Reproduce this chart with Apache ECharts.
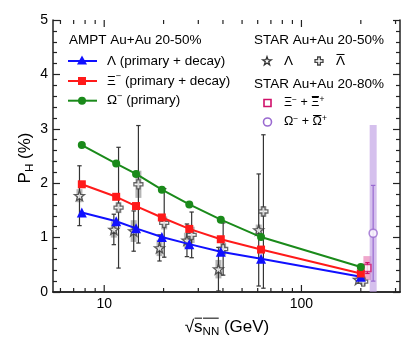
<!DOCTYPE html>
<html>
<head>
<meta charset="utf-8">
<script src="https://cdn.jsdelivr.net/npm/echarts@6/dist/echarts.min.js"></script>
<style>
html, body { margin: 0; padding: 0; background: #fff; }
#chart { width: 415px; height: 354px; }
</style>
</head>
<body>
<div id="chart"></div>
<script>
// AMPT Au+Au 20-50%
const ampt_energy = [7.7, 11.5, 14.5, 19.6, 27, 39, 62.4, 200];
const ampt_lambda = [1.46, 1.30, 1.17, 1.01, 0.88, 0.74, 0.61, 0.28];
const ampt_xi = [1.98, 1.75, 1.58, 1.37, 1.16, 0.97, 0.78, 0.34];
const ampt_omega = [2.70, 2.36, 2.17, 1.88, 1.61, 1.33, 1.01, 0.46];

// STAR Au+Au 20-50%  Lambda
const star_lam_energy = [7.7, 11.5, 14.5, 19.6, 27, 39, 62.4, 200];
const star_lam = [1.77, 1.15, 1.12, 0.81, 0.95, 0.42, 1.14, 0.23];
const star_lam_stat = [0.55, 0.28, 0.37, 0.24, 0.30, 0.40, 1.03, 0.06];
const star_lam_sys = [0.12, 0.15, 0.20, 0.15, 0.14, 0.17, 0.10, 0.04];

// STAR Au+Au 20-50%  anti-Lambda
const star_lbar_energy = [11.5, 14.5, 19.6, 27, 39, 62.4, 200];
const star_lbar = [1.55, 1.98, 1.27, 1.05, 0.79, 1.48, 0.19];
const star_lbar_stat = [1.11, 1.08, 0.63, 0.42, 0.48, 1.41, 0.06];
const star_lbar_sys = [0.10, 0.25, 0.12, 0.15, 0.12, 0.10, 0.04];

// STAR Au+Au 20-80%
const star_xi_energy = [200];
const star_xi = [0.44];
const star_xi_stat = [0.10];
const star_xi_sys = [0.22];
const star_om_energy = [200];
const star_om = [1.08];
const star_om_stat = [0.88];
const star_om_sys = [1.99];

// axis ticks
const x_major_ticks = [10, 100];
const x_minor_ticks = [6, 7, 8, 9, 20, 30, 40, 50, 60, 70, 80, 90, 200, 300];

// horizontal shifts used in the plot so the points don't overlap
const shift_lam = 0.973, shift_lbar = 1.028, shift_xi = 1.08, shift_om = 1.155;

const FONT = '"Liberation Sans", Arial, sans-serif';
const C_BLUE = '#1010ff', C_RED = '#ff1a1a', C_GREEN = '#1a8a1a';
const C_MAG = '#d0106a', C_PURPLE = '#9a6ad0';

const STAR_PTS = [[50, 2], [61.76, 35.82], [97.55, 36.55], [69.02, 58.18], [79.39, 92.45], [50, 72], [20.61, 92.45], [30.98, 58.18], [2.45, 36.55], [38.24, 35.82]];
const CROSS_PTS = [[33, 0], [67, 0], [67, 33], [100, 33], [100, 67], [67, 67], [67, 100], [33, 100], [33, 67], [0, 67], [0, 33], [33, 33]];
function toPath(p) { return 'path://M' + p.map(q => q[0] + ' ' + q[1]).join(' L') + ' Z'; }
function scalePts(p, cx, cy, size) { return p.map(q => [cx + (q[0] - 50) * size / 100, cy + (q[1] - 50) * size / 100]); }

const mctx = document.createElement('canvas').getContext('2d');
function txtW(s, size) { mctx.font = size + 'px ' + FONT; return mctx.measureText(s).width; }

// builds a row of text pieces (normal / sub / sup / overline), origin at left-middle
function composite(parts, size) {
    let x = 0;
    const kids = [];
    parts.forEach(p => {
        const small = p.sub || p.sup;
        const sz = small ? size * 0.68 : size;
        const dy = p.sub ? size * 0.28 : (p.sup ? -size * 0.3 : 0);
        const w = txtW(p.t, sz);
        kids.push({ type: 'text', x: x, y: dy, style: { text: p.t, font: sz + 'px ' + FONT, fill: '#000', align: 'left', verticalAlign: 'middle' } });
        if (p.over) {
            kids.push({ type: 'line', shape: { x1: x + 0.5, y1: -size * 0.52, x2: x + w - 0.5, y2: -size * 0.52 }, style: { stroke: '#000', lineWidth: 1 } });
        }
        x += w;
    });
    return { kids: kids, width: x };
}

function pts(es, vs, f) { return es.map((e, i) => [e * (f || 1), vs[i]]); }
function errs(es, vs, st, f) { return es.map((e, i) => [e * (f || 1), vs[i] - st[i], vs[i] + st[i]]); }

function errRender(color, cap, lw) {
    return function (params, api) {
        const x = api.value(0);
        const p1 = api.coord([x, api.value(1)]);
        const p2 = api.coord([x, api.value(2)]);
        const st = { stroke: color, lineWidth: lw };
        return { type: 'group', children: [
            { type: 'line', shape: { x1: p1[0], y1: p1[1], x2: p2[0], y2: p2[1] }, style: st },
            { type: 'line', shape: { x1: p1[0] - cap, y1: p1[1], x2: p1[0] + cap, y2: p1[1] }, style: st },
            { type: 'line', shape: { x1: p2[0] - cap, y1: p2[1], x2: p2[0] + cap, y2: p2[1] }, style: st }
        ] };
    };
}
function boxRender(color, half) {
    return function (params, api) {
        const x = api.value(0);
        const p1 = api.coord([x, api.value(1)]);
        const p2 = api.coord([x, api.value(2)]);
        return { type: 'rect', shape: { x: p1[0] - half, y: p2[1], width: half * 2, height: p1[1] - p2[1] }, style: { fill: color } };
    };
}
function tickRender(len) {
    return function (params, api) {
        const b = api.coord([api.value(0), 0]);
        const t = api.coord([api.value(0), 5]);
        const st = { stroke: '#222', lineWidth: 1.2 };
        return { type: 'group', children: [
            { type: 'line', shape: { x1: b[0], y1: b[1], x2: b[0], y2: b[1] - len }, style: st },
            { type: 'line', shape: { x1: t[0], y1: t[1], x2: t[0], y2: t[1] + len }, style: st }
        ] };
    };
}

function customSeries(data, render, z, clip) {
    return { type: 'custom', data: data, renderItem: render, encode: { x: 0, y: [1, 2] }, z: z, clip: clip !== false, silent: true };
}

const series = [
    // systematic boxes
    customSeries(errs(star_lam_energy, star_lam, star_lam_sys, shift_lam), boxRender('rgba(120,120,120,0.55)', 3), 1),
    customSeries(errs(star_lbar_energy, star_lbar, star_lbar_sys, shift_lbar), boxRender('rgba(120,120,120,0.55)', 3), 1),
    customSeries(errs(star_xi_energy, star_xi, star_xi_sys, shift_xi), boxRender('rgba(230,110,170,0.6)', 4), 1),
    customSeries(errs(star_om_energy, star_om, star_om_sys, shift_om), boxRender('rgba(185,150,225,0.6)', 3.5), 1),
    // statistical error bars
    customSeries(errs(star_lam_energy, star_lam, star_lam_stat, shift_lam), errRender('#333', 2.2, 1.2), 2),
    customSeries(errs(star_lbar_energy, star_lbar, star_lbar_stat, shift_lbar), errRender('#333', 2.2, 1.2), 2),
    customSeries(errs(star_xi_energy, star_xi, star_xi_stat, shift_xi), errRender(C_MAG, 2.2, 1.2), 2),
    customSeries(errs(star_om_energy, star_om, star_om_stat, shift_om), errRender(C_PURPLE, 2.2, 1.2), 2),
    // STAR markers
    { type: 'scatter', data: pts(star_lam_energy, star_lam, shift_lam), symbol: toPath(STAR_PTS), symbolSize: 10, z: 3,
      itemStyle: { color: '#fff', borderColor: '#333', borderWidth: 1.3 } },
    { type: 'scatter', data: pts(star_lbar_energy, star_lbar, shift_lbar), symbol: toPath(CROSS_PTS), symbolSize: 9, z: 3,
      itemStyle: { color: '#fff', borderColor: '#444', borderWidth: 1.3 } },
    { type: 'scatter', data: pts(star_xi_energy, star_xi, shift_xi), symbol: 'rect', symbolSize: 7, z: 3,
      itemStyle: { color: '#fff', borderColor: C_MAG, borderWidth: 1.6 } },
    { type: 'scatter', data: pts(star_om_energy, star_om, shift_om), symbol: 'circle', symbolSize: 8, z: 3,
      itemStyle: { color: '#fff', borderColor: C_PURPLE, borderWidth: 1.6 } },
    // AMPT lines
    { type: 'line', data: pts(ampt_energy, ampt_lambda), symbol: 'triangle', symbolSize: 10, z: 4,
      lineStyle: { color: C_BLUE, width: 2 }, itemStyle: { color: C_BLUE } },
    { type: 'line', data: pts(ampt_energy, ampt_xi), symbol: 'rect', symbolSize: 8, z: 4,
      lineStyle: { color: C_RED, width: 2 }, itemStyle: { color: C_RED } },
    { type: 'line', data: pts(ampt_energy, ampt_omega), symbol: 'circle', symbolSize: 8, z: 4,
      lineStyle: { color: C_GREEN, width: 2 }, itemStyle: { color: C_GREEN } },
    // x ticks (bottom + top)
    customSeries(x_major_ticks.map(v => [v, 0, 5]), tickRender(7), 10, false),
    customSeries(x_minor_ticks.map(v => [v, 0, 5]), tickRender(4), 10, false)
];

// legend + axis titles
const graphics = [];
function addText(str, x, y, size) {
    graphics.push({ type: 'text', x: x, y: y, style: { text: str, font: size + 'px ' + FONT, fill: '#000', align: 'left', verticalAlign: 'middle' } });
}
function addComposite(parts, x, y, size, center, rotation) {
    const c = composite(parts, size);
    const off = center ? c.width / 2 : 0;
    c.kids.forEach(k => {
        if (k.type === 'text') k.x -= off;
        else { k.shape.x1 -= off; k.shape.x2 -= off; }
    });
    graphics.push({ type: 'group', x: x, y: y, rotation: rotation || 0, children: c.kids });
}
addText('AMPT Au+Au 20-50%', 69, 40, 13.5);
[[C_BLUE, 61, 'triangle'], [C_RED, 81, 'rect'], [C_GREEN, 100.7, 'circle']].forEach(d => {
    graphics.push({ type: 'line', shape: { x1: 68, y1: d[1], x2: 97, y2: d[1] }, style: { stroke: d[0], lineWidth: 2 } });
    if (d[2] === 'triangle') graphics.push({ type: 'polygon', shape: { points: [[82, d[1] - 5.5], [87, d[1] + 3.5], [77, d[1] + 3.5]] }, style: { fill: d[0] } });
    if (d[2] === 'rect') graphics.push({ type: 'rect', shape: { x: 78, y: d[1] - 4, width: 8, height: 8 }, style: { fill: d[0] } });
    if (d[2] === 'circle') graphics.push({ type: 'circle', shape: { cx: 82, cy: d[1], r: 4 }, style: { fill: d[0] } });
});
addText('\u039B (primary + decay)', 107, 61, 13.5);
addComposite([{ t: '\u039E' }, { t: '\u2212', sup: true }, { t: ' (primary + decay)' }], 107, 81, 13.5);
addComposite([{ t: '\u03A9' }, { t: '\u2212', sup: true }, { t: ' (primary)' }], 107, 100.7, 13.5);

addText('STAR Au+Au 20-50%', 254, 40.5, 13.5);
graphics.push({ type: 'polygon', shape: { points: scalePts(STAR_PTS, 267, 61, 9) }, style: { fill: '#fff', stroke: '#333', lineWidth: 1.3 } });
addText('\u039B', 284, 61.5, 13.5);
graphics.push({ type: 'polygon', shape: { points: scalePts(CROSS_PTS, 319, 61, 8) }, style: { fill: '#fff', stroke: '#444', lineWidth: 1.3 } });
addComposite([{ t: '\u039B', over: true }], 336, 61.5, 13.5);

addText('STAR Au+Au 20-80%', 254, 84, 13.5);
graphics.push({ type: 'rect', shape: { x: 264, y: 99.5, width: 7, height: 7 }, style: { fill: '#fff', stroke: C_MAG, lineWidth: 1.6 } });
addComposite([{ t: '\u039E' }, { t: '\u2212', sup: true }, { t: ' + ' }, { t: '\u039E', over: true }, { t: '+', sup: true }], 284, 103, 12.5);
graphics.push({ type: 'circle', shape: { cx: 267.5, cy: 122, r: 4 }, style: { fill: '#fff', stroke: C_PURPLE, lineWidth: 1.6 } });
addComposite([{ t: '\u03A9' }, { t: '\u2212', sup: true }, { t: ' + ' }, { t: '\u03A9', over: true }, { t: '+', sup: true }], 284, 122, 12.5);

// x title: sqrt(s_NN) (GeV)
addComposite([{ t: '\u221A' }, { t: 's', over: true }, { t: 'NN', sub: true, over: true }, { t: ' (GeV)' }], 227, 327, 17, true);
// y title: P_H (%)
addComposite([{ t: 'P' }, { t: 'H', sub: true }, { t: ' (%)' }], 25, 158, 17, true, Math.PI / 2);

const xAxisBase = {
    type: 'log', min: 5.5, max: 316, logBase: 10,
    axisLine: { show: true, lineStyle: { color: '#222', width: 1.5 } },
    axisTick: { show: false }, minorTick: { show: false },
    splitLine: { show: false }, minorSplitLine: { show: false }
};
const yAxisBase = {
    type: 'value', min: 0, max: 5, interval: 1,
    axisLine: { show: true, lineStyle: { color: '#222', width: 1.5 } },
    axisTick: { show: true, inside: true, length: 7, lineStyle: { color: '#222', width: 1.2 } },
    minorTick: { show: true, splitNumber: 5, length: 4, lineStyle: { color: '#222', width: 1.2 } },
    splitLine: { show: false }
};

const chart = echarts.init(document.getElementById('chart'), null, { renderer: 'canvas' });
chart.setOption({
    animation: false,
    backgroundColor: '#fff',
    grid: { left: 53, right: 15, top: 20, bottom: 62, containLabel: false },
    xAxis: [
        Object.assign({}, xAxisBase, {
            position: 'bottom',
            axisLabel: { show: true, margin: 5, fontSize: 14, color: '#000', fontFamily: FONT,
                formatter: function (v) { const l = Math.log10(v); return Math.abs(l - Math.round(l)) < 1e-6 ? String(Math.round(v)) : ''; } }
        }),
        Object.assign({}, xAxisBase, { position: 'top', axisLabel: { show: false } })
    ],
    yAxis: [
        Object.assign({}, yAxisBase, { position: 'left', axisLabel: { show: true, margin: 5, fontSize: 14, color: '#000', fontFamily: FONT } }),
        Object.assign({}, yAxisBase, { position: 'right', axisLabel: { show: false } })
    ],
    series: series,
    graphic: graphics
});
</script>
</body>
</html>
